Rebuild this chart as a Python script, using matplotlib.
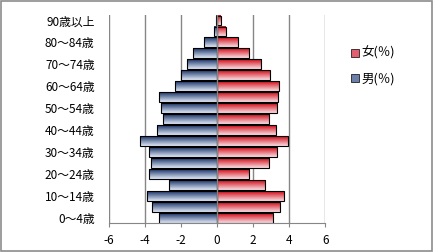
import numpy as np
import matplotlib
matplotlib.use('Agg')
import matplotlib.pyplot as plt
from matplotlib.patches import Patch, Rectangle

plt.rcParams['font.family'] = ['Noto Sans CJK JP', 'DejaVu Sans']

# age groups, bottom to top
ages = ['0〜4歳', '5〜9歳', '10〜14歳', '15〜19歳', '20〜24歳', '25〜29歳',
        '30〜34歳', '35〜39歳', '40〜44歳', '45〜49歳', '50〜54歳', '55〜59歳',
        '60〜64歳', '65〜69歳', '70〜74歳', '75〜79歳', '80〜84歳', '85〜89歳',
        '90歳以上']
male = [3.22, 3.61, 3.89, 2.65, 3.78, 3.67, 3.78, 4.28, 3.34, 3.00,
        3.11, 3.20, 2.34, 2.00, 1.67, 1.34, 0.73, 0.18, 0.05]
female = [3.09, 3.48, 3.70, 2.67, 1.78, 2.89, 3.31, 3.92, 3.26, 2.89,
          3.33, 3.39, 3.45, 2.93, 2.45, 1.78, 1.15, 0.49, 0.20]
xticks = [-6, -4, -2, 0, 2, 4, 6]


def gradient(top, bottom, n=32):
    t = np.linspace(0, 1, n)[:, None]
    top = np.array(top)
    bottom = np.array(bottom)
    return (top * (1 - t) + bottom * t)[:, None, :]


fig = plt.figure(figsize=(4.33, 2.52), dpi=100)
ax = fig.add_axes([0.2506, 0.114, 0.5007, 0.8265])

y = np.arange(len(ages))
blue = gradient((0.10, 0.20, 0.40), (0.88, 0.91, 0.97))
red = gradient((0.82, 0.04, 0.08), (0.98, 0.87, 0.90))

mbars = ax.barh(y, [-v for v in male], height=0.9, facecolor='none',
                edgecolor='black', linewidth=0.8, zorder=3)
fbars = ax.barh(y, female, height=0.9, facecolor='none',
                edgecolor='black', linewidth=0.8, zorder=3)

for bars, img in ((mbars, blue), (fbars, red)):
    for p in bars:
        x0, y0 = p.get_x(), p.get_y()
        w, h = p.get_width(), p.get_height()
        ax.imshow(img, extent=[x0, x0 + w, y0, y0 + h], aspect='auto',
                  origin='upper', zorder=2, interpolation='bilinear')

ax.set_xlim(-6, 6)
ax.set_ylim(-0.5, len(ages) - 0.5)
ax.set_xticks(xticks)
ax.set_xticklabels([str(t) for t in xticks], fontsize=8.5)
ax.set_yticks(y[::2])
ax.set_yticklabels(ages[::2], fontsize=8.5)
ax.tick_params(axis='y', length=0, pad=10)
ax.tick_params(axis='x', length=3, color='#868686', pad=5)

for t in xticks:
    ax.axvline(t, color='#868686', linewidth=1.0,
               zorder=4 if t == 0 else 1)

for s in ['top', 'left', 'right']:
    ax.spines[s].set_visible(False)
ax.spines['bottom'].set_color('#868686')

handles = [Patch(facecolor='#e06070', edgecolor='black', linewidth=0.5),
           Patch(facecolor='#6b7fa8', edgecolor='black', linewidth=0.5)]
fig.legend(handles, ['女(％)', '男(％)'], loc='center left',
           bbox_to_anchor=(0.785, 0.738), frameon=False, fontsize=9,
           handlelength=0.6, handleheight=0.6, handletextpad=0.2,
           labelspacing=1.0)

fig.patches.append(Rectangle((0.002, 0.002), 0.996, 0.996,
                             transform=fig.transFigure, fill=False,
                             edgecolor='#8c8c8c', linewidth=1.2))

fig.savefig('out.png', dpi=100)
